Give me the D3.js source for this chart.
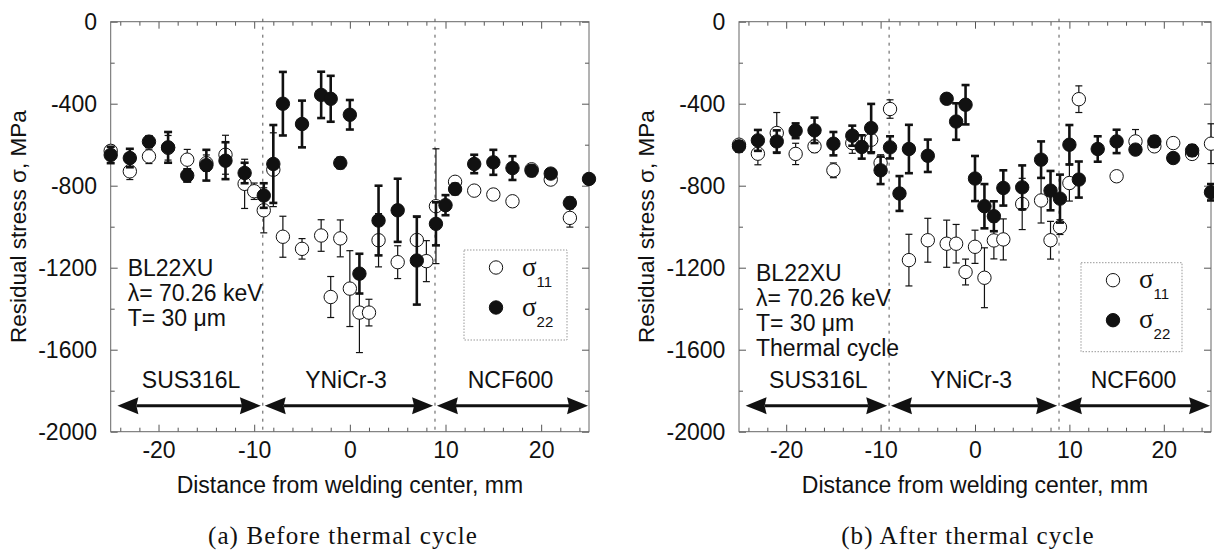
<!DOCTYPE html>
<html><head><meta charset="utf-8">
<script src="https://cdn.jsdelivr.net/npm/d3@7"></script>
<style>body{margin:0;background:#fff} svg{display:block}</style>
</head><body>
<svg id="c" width="1214" height="554"></svg>
<script>
// ---------- axes / labels ----------
const xDomain = [-25, 25];
const yDomain = [-2000, 0];
const xMajorTicks = [-20, -10, 0, 10, 20];
const xMinorTicks = [-24,-22,-18,-16,-14,-12,-8,-6,-4,-2,2,4,6,8,12,14,16,18,22,24];
const yMajorTicks = [0, -400, -800, -1200, -1600, -2000];
const yMinorTicks = [-200, -600, -1000, -1400, -1800];
const xTitle = "Distance from welding center, mm";
const yTitle = "Residual stress \u03c3, MPa";
const captions = ["(a) Before thermal cycle", "(b) After thermal cycle"];
const boundaries = [-9.1, 8.9];
const regionNames = ["SUS316L", "YNiCr-3", "NCF600"];
const regionFrom = [-24.3, -8.9, 9.1];
const regionTo = [-9.3, 8.7, 24.9];
const regionLabelX = [-16.6, -0.4, 16.8];
const regionArrowY = -1873;
const regionLabelY = -1743;
const annotA = ["BL22XU", "\u03bb= 70.26 keV", "T= 30 \u03bcm"];
const annotB = ["BL22XU", "\u03bb= 70.26 keV", "T= 30 \u03bcm", "Thermal cycle"];
const legendSub = ["11", "22"];

// ---------- (a) before thermal cycle ----------
const xA11 = [-25,-23,-21,-19,-17,-15,-13,-11,-10,-9,-8,-7,-5,-3,-2,-1,0,1,2,3,5,7,8,9,11,13,15,17,19,21,23];
const yA11 = [-630,-730,-657,-615,-673,-690,-649,-791,-827,-920,-722,-1049,-1108,-1043,-1343,-1057,-1302,-1419,-1419,-1066,-1173,-1065,-1168,-900,-781,-824,-843,-876,-720,-770,-957];
const eA11 = [25,40,35,60,50,40,95,120,40,110,180,100,50,77,100,90,185,195,65,130,80,110,100,280,20,15,25,20,20,15,45];
const xA22 = [-25,-23,-21,-19,-17,-15,-13,-11,-9,-8,-7,-5,-3,-2,-1,0,1,3,5,7,9,10,11,13,15,17,19,21,23,25];
const yA22 = [-650,-665,-585,-613,-750,-700,-678,-738,-848,-694,-400,-499,-357,-376,-689,-454,-1229,-970,-920,-1165,-986,-895,-816,-694,-686,-714,-727,-741,-884,-767];
const eA22 = [40,45,25,75,30,75,90,50,60,190,155,114,113,112,25,72,97,170,154,215,105,49,25,45,61,58,25,20,25,15];

// ---------- (b) after thermal cycle ----------
const xB11 = [-25,-23,-21,-19,-17,-15,-13,-11,-10,-9,-7,-5,-3,-2,-1,0,1,2,3,5,7,8,9,10,11,15,17,19,21,23,25];
const yB11 = [-600,-644,-543,-645,-608,-725,-592,-576,-689,-426,-1163,-1066,-1083,-1083,-1221,-1098,-1249,-1067,-1062,-889,-872,-1066,-1002,-787,-378,-754,-584,-608,-592,-645,-595];
const eB11 = [20,54,100,52,30,36,50,68,40,45,126,107,115,94,63,81,146,90,100,125,110,92,36,88,65,20,58,20,20,20,97];
const xB22 = [-25,-23,-21,-19,-17,-15,-13,-12,-11,-10,-9,-8,-7,-5,-3,-2,-1,0,1,2,3,5,7,8,9,10,11,13,15,17,19,21,23,25];
const yB22 = [-608,-579,-584,-532,-530,-595,-556,-611,-519,-725,-613,-838,-621,-654,-376,-487,-405,-765,-900,-949,-811,-808,-673,-824,-863,-600,-770,-621,-584,-624,-584,-665,-628,-832];
const eB22 = [25,51,54,36,62,57,49,57,118,67,54,85,118,79,15,89,96,110,108,73,86,107,89,96,117,96,88,62,57,20,25,15,25,40];

// ---------- drawing ----------
const SANS = "'Liberation Sans', Arial, Helvetica, sans-serif";
const SERIF = "'Liberation Serif', 'Times New Roman', serif";
const FS = 23;
const svg = d3.select("#c");
const plotTop = 21.7, plotBottom = 431.7;

const panels = [
  {left: 110.7, right: 589, annot: annotA, annotY: 276, legend: {x: 464, y: 250, w: 103, h: 90}, capX: 343,
   s11: {x: xA11, y: yA11, e: eA11}, s22: {x: xA22, y: yA22, e: eA22}, caption: captions[0]},
  {left: 739, right: 1211, annot: annotB, annotY: 280.5, legend: {x: 1081, y: 262.7, w: 101, h: 89}, capX: 968,
   s11: {x: xB11, y: yB11, e: eB11}, s22: {x: xB22, y: yB22, e: eB22}, caption: captions[1]}
];

function drawPanel(p) {
  const x = d3.scaleLinear().domain(xDomain).range([p.left, p.right]);
  const y = d3.scaleLinear().domain(yDomain).range([plotBottom, plotTop]);
  const g = svg.append("g");

  const fmt = d => String(d);
  const styleAxis = sel => {
    sel.select(".domain").remove();
    sel.selectAll("line").attr("stroke", "#555").attr("stroke-width", 1);
    sel.selectAll("text").attr("font-family", SANS).attr("font-size", FS).attr("fill", "#111");
  };
  g.append("g").attr("transform", `translate(0,${plotBottom})`)
    .call(d3.axisBottom(x).tickValues(xMajorTicks).tickSize(-7).tickPadding(10).tickFormat(fmt)).call(styleAxis);
  g.append("g").attr("transform", `translate(0,${plotBottom})`)
    .call(d3.axisBottom(x).tickValues(xMinorTicks).tickSize(-4).tickFormat("")).call(styleAxis);
  g.append("g").attr("transform", `translate(0,${plotTop})`)
    .call(d3.axisTop(x).tickValues(xMajorTicks).tickSize(-7).tickFormat("")).call(styleAxis);
  g.append("g").attr("transform", `translate(0,${plotTop})`)
    .call(d3.axisTop(x).tickValues(xMinorTicks).tickSize(-4).tickFormat("")).call(styleAxis);
  g.append("g").attr("transform", `translate(${p.left},0)`)
    .call(d3.axisLeft(y).tickValues(yMajorTicks).tickSize(-7).tickPadding(13.7).tickFormat(fmt)).call(styleAxis);
  g.append("g").attr("transform", `translate(${p.left},0)`)
    .call(d3.axisLeft(y).tickValues(yMinorTicks).tickSize(-4).tickFormat("")).call(styleAxis);
  g.append("g").attr("transform", `translate(${p.right},0)`)
    .call(d3.axisRight(y).tickValues(yMajorTicks).tickSize(-7).tickFormat("")).call(styleAxis);
  g.append("g").attr("transform", `translate(${p.right},0)`)
    .call(d3.axisRight(y).tickValues(yMinorTicks).tickSize(-4).tickFormat("")).call(styleAxis);

  g.append("rect").attr("x", p.left).attr("y", plotTop)
    .attr("width", p.right - p.left).attr("height", plotBottom - plotTop)
    .attr("fill", "none").attr("stroke", "#666").attr("stroke-width", 1);

  g.selectAll(".bnd").data(boundaries).enter().append("line")
    .attr("x1", d => x(d)).attr("x2", d => x(d)).attr("y1", plotTop - 3).attr("y2", plotBottom)
    .attr("stroke", "#555").attr("stroke-width", 1).attr("stroke-dasharray", "3,5");

  const ay = y(regionArrowY), headL = 21, headH = 8.5;
  regionNames.forEach((name, i) => {
    const x0 = x(regionFrom[i]), x1 = x(regionTo[i]);
    g.append("line").attr("x1", x0 + headL - 2).attr("x2", x1 - headL + 2).attr("y1", ay).attr("y2", ay)
      .attr("stroke", "#111").attr("stroke-width", 3);
    g.append("path").attr("d", `M${x0},${ay} L${x0 + headL},${ay - headH} L${x0 + headL - 2},${ay} L${x0 + headL},${ay + headH} Z`).attr("fill", "#111");
    g.append("path").attr("d", `M${x1},${ay} L${x1 - headL},${ay - headH} L${x1 - headL + 2},${ay} L${x1 - headL},${ay + headH} Z`).attr("fill", "#111");
    g.append("text").attr("x", x(regionLabelX[i])).attr("y", y(regionLabelY) + 8.5)
      .attr("text-anchor", "middle").attr("font-family", SANS).attr("font-size", FS).attr("fill", "#111").text(name);
  });

  function series(s, filled) {
    const pts = s.x.map((xv, i) => ({x: xv, y: s.y[i], e: s.e[i]}));
    const sg = g.append("g");
    const sw = filled ? 2.6 : 1.2, cap = filled ? 4 : 3.5;
    const eb = sg.selectAll(".eb").data(pts).enter().append("g");
    eb.append("line").attr("x1", d => x(d.x)).attr("x2", d => x(d.x))
      .attr("y1", d => y(d.y - d.e)).attr("y2", d => y(d.y + d.e))
      .attr("stroke", "#111").attr("stroke-width", sw);
    eb.append("line").attr("x1", d => x(d.x) - cap).attr("x2", d => x(d.x) + cap)
      .attr("y1", d => y(d.y - d.e)).attr("y2", d => y(d.y - d.e)).attr("stroke", "#111").attr("stroke-width", sw);
    eb.append("line").attr("x1", d => x(d.x) - cap).attr("x2", d => x(d.x) + cap)
      .attr("y1", d => y(d.y + d.e)).attr("y2", d => y(d.y + d.e)).attr("stroke", "#111").attr("stroke-width", sw);
    sg.selectAll(".pt").data(pts).enter().append("circle")
      .attr("cx", d => x(d.x)).attr("cy", d => y(d.y)).attr("r", 6.7)
      .attr("fill", filled ? "#111" : "#fff").attr("stroke", "#111").attr("stroke-width", 1);
  }
  series(p.s11, false);
  series(p.s22, true);

  p.annot.forEach((t, i) => {
    g.append("text").attr("x", p.left + 17).attr("y", p.annotY + i * 25)
      .attr("font-family", SANS).attr("font-size", FS).attr("fill", "#111").text(t);
  });

  const L = p.legend;
  g.append("rect").attr("x", L.x).attr("y", L.y).attr("width", L.w).attr("height", L.h)
    .attr("fill", "#fff").attr("stroke", "#999").attr("stroke-width", 1).attr("stroke-dasharray", "1.5,1.5");
  legendSub.forEach((sub, i) => {
    const cy = L.y + 17.5 + i * 40;
    g.append("circle").attr("cx", L.x + 32).attr("cy", cy).attr("r", 6.7)
      .attr("fill", i === 0 ? "#fff" : "#111").attr("stroke", "#111").attr("stroke-width", 1);
    const t = g.append("text").attr("x", L.x + 58).attr("y", cy + 8)
      .attr("font-family", SERIF).attr("font-size", 27).attr("fill", "#111");
    t.append("tspan").text("\u03c3");
    t.append("tspan").attr("dy", 11).attr("font-family", SANS).attr("font-size", 15).text(sub);
  });

  g.append("text").attr("x", (p.left + p.right) / 2).attr("y", 493).attr("text-anchor", "middle")
    .attr("font-family", SANS).attr("font-size", FS).attr("fill", "#111").text(xTitle);
  g.append("text").attr("transform", `translate(${p.left - 85},${(plotTop + plotBottom) / 2}) rotate(-90)`)
    .attr("text-anchor", "middle").attr("font-family", SANS).attr("font-size", 22.5).attr("fill", "#111").text(yTitle);

  g.append("text").attr("x", p.capX).attr("y", 544).attr("text-anchor", "middle")
    .attr("font-family", SERIF).attr("font-size", 25).attr("letter-spacing", 1.1).attr("fill", "#111").text(p.caption);
}

panels.forEach(drawPanel);
</script>
</body></html>
